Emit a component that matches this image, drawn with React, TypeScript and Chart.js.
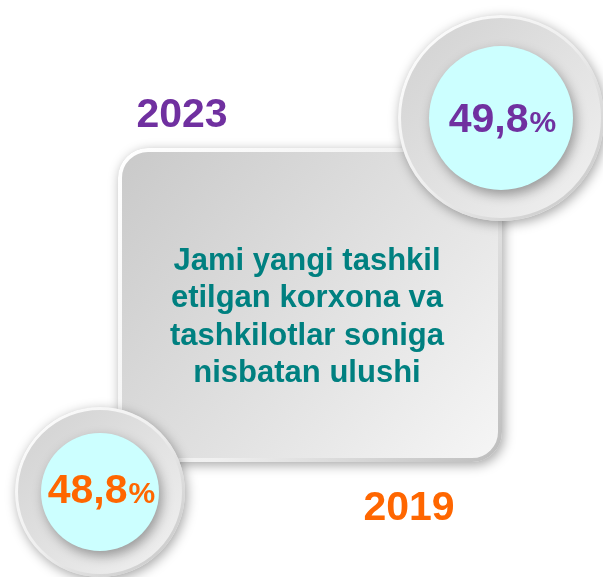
import { useEffect, useRef } from "react";
import { Chart, registerables } from "chart.js";

Chart.register(...registerables);

// ---- data ----
const years = ["2023", "2019"];
const shares = [49.8, 48.8];
const seriesColors = ["#7030a0", "#ff6600"];
const titleLines = [
  "Jami yangi tashkil",
  "etilgan korxona va",
  "tashkilotlar soniga",
  "nisbatan ulushi",
];

const W = 603;
const H = 577;
const FONT = '"Liberation Sans", Arial, Helvetica, sans-serif';

function roundRectPath(ctx: CanvasRenderingContext2D, x: number, y: number, w: number, h: number, r: number) {
  ctx.beginPath();
  ctx.moveTo(x + r, y);
  ctx.lineTo(x + w - r, y);
  ctx.arcTo(x + w, y, x + w, y + r, r);
  ctx.lineTo(x + w, y + h - r);
  ctx.arcTo(x + w, y + h, x + w - r, y + h, r);
  ctx.lineTo(x + r, y + h);
  ctx.arcTo(x, y + h, x, y + h - r, r);
  ctx.lineTo(x, y + r);
  ctx.arcTo(x, y, x + r, y, r);
  ctx.closePath();
}

function drawBadge(ctx: CanvasRenderingContext2D, cx: number, cy: number, R: number, r: number) {
  // outer ring with shadow
  ctx.save();
  ctx.shadowColor = "rgba(0,0,0,0.35)";
  ctx.shadowBlur = 12;
  ctx.shadowOffsetX = 2;
  ctx.shadowOffsetY = 3;
  ctx.beginPath();
  ctx.arc(cx, cy, R, 0, Math.PI * 2);
  const g = ctx.createLinearGradient(cx - R, cy - R, cx + R, cy + R);
  g.addColorStop(0, "#d0d0d0");
  g.addColorStop(1, "#f2f2f2");
  ctx.fillStyle = g;
  ctx.fill();
  ctx.restore();
  // bevel rim
  ctx.save();
  ctx.beginPath();
  ctx.arc(cx, cy, R - 1.5, 0, Math.PI * 2);
  const rg = ctx.createLinearGradient(cx - R, cy - R, cx + R, cy + R);
  rg.addColorStop(0, "#ffffff");
  rg.addColorStop(0.5, "#eeeeee");
  rg.addColorStop(1, "#c2c2c2");
  ctx.strokeStyle = rg;
  ctx.lineWidth = 3;
  ctx.stroke();
  ctx.restore();
  // inner cyan disc with shadow
  ctx.save();
  ctx.shadowColor = "rgba(0,0,0,0.35)";
  ctx.shadowBlur = 12;
  ctx.shadowOffsetX = 3;
  ctx.shadowOffsetY = 5;
  ctx.beginPath();
  ctx.arc(cx, cy, r, 0, Math.PI * 2);
  ctx.fillStyle = "#ccffff";
  ctx.fill();
  ctx.restore();
}

function drawValue(ctx: CanvasRenderingContext2D, value: number, cx: number, baseline: number, color: string) {
  const num = value.toFixed(1).replace(".", ",");
  ctx.save();
  ctx.fillStyle = color;
  ctx.textBaseline = "alphabetic";
  ctx.textAlign = "left";
  ctx.font = `bold 41px ${FONT}`;
  const w1 = ctx.measureText(num).width;
  ctx.font = `bold 30px ${FONT}`;
  const w2 = ctx.measureText("%").width;
  const x0 = cx - (w1 + w2) / 2;
  ctx.font = `bold 41px ${FONT}`;
  ctx.fillText(num, x0, baseline);
  ctx.font = `bold 30px ${FONT}`;
  ctx.fillText("%", x0 + w1 + 1, baseline);
  ctx.restore();
}

const infographicPlugin = {
  id: "infographic",
  afterDraw(chart: any) {
    const ctx: CanvasRenderingContext2D = chart.ctx;
    const labels: string[] = chart.data.labels;
    const vals: number[] = chart.data.datasets[0].data;
    ctx.save();
    ctx.fillStyle = "#ffffff";
    ctx.fillRect(0, 0, W, H);

    // central rounded box
    const bx = 118, by = 148, bw = 384, bh = 314, br = 30;
    ctx.save();
    ctx.shadowColor = "rgba(0,0,0,0.35)";
    ctx.shadowBlur = 12;
    ctx.shadowOffsetX = 2;
    ctx.shadowOffsetY = 3;
    roundRectPath(ctx, bx, by, bw, bh, br);
    const bg = ctx.createLinearGradient(bx, by, bx + bw, by + bh);
    bg.addColorStop(0, "#c9c9c9");
    bg.addColorStop(1, "#f6f6f6");
    ctx.fillStyle = bg;
    ctx.fill();
    ctx.restore();
    ctx.save();
    roundRectPath(ctx, bx + 2, by + 2, bw - 4, bh - 4, br - 2);
    const sg = ctx.createLinearGradient(bx, by, bx + bw, by + bh);
    sg.addColorStop(0, "#ffffff");
    sg.addColorStop(0.55, "#f0f0f0");
    sg.addColorStop(1, "#bdbdbd");
    ctx.strokeStyle = sg;
    ctx.lineWidth = 4;
    ctx.stroke();
    ctx.restore();

    // title text
    ctx.save();
    ctx.fillStyle = "#008080";
    ctx.font = `bold 31px ${FONT}`;
    ctx.textAlign = "center";
    ctx.textBaseline = "middle";
    const lineYs = [261, 298.5, 336, 373.5];
    titleLines.forEach((t, i) => ctx.fillText(t, 307, lineYs[i]));
    ctx.restore();

    // badges
    drawBadge(ctx, 501, 118, 103, 72);
    drawBadge(ctx, 100, 492, 85, 59);

    drawValue(ctx, vals[0], 502, 132, seriesColors[0]);
    drawValue(ctx, vals[1], 101, 503, seriesColors[1]);

    // year labels
    ctx.save();
    ctx.font = `bold 41px ${FONT}`;
    ctx.textAlign = "center";
    ctx.textBaseline = "alphabetic";
    ctx.fillStyle = seriesColors[0];
    ctx.fillText(labels[0], 182, 127);
    ctx.fillStyle = seriesColors[1];
    ctx.fillText(labels[1], 409, 520);
    ctx.restore();
    ctx.restore();
  },
};

export default function App() {
  const ref = useRef<HTMLCanvasElement | null>(null);
  useEffect(() => {
    if (!ref.current) return;
    const chart = new Chart(ref.current, {
      type: "bar",
      data: {
        labels: years,
        datasets: [
          {
            data: shares,
            backgroundColor: "rgba(0,0,0,0)",
            borderWidth: 0,
          },
        ],
      },
      options: {
        responsive: false,
        animation: false,
        events: [],
        layout: { padding: 0 },
        plugins: { legend: { display: false }, tooltip: { enabled: false } },
        scales: { x: { display: false }, y: { display: false } },
      },
      plugins: [infographicPlugin],
    });
    return () => chart.destroy();
  }, []);
  return (
    <div style={{ position: "absolute", left: 0, top: 0, width: W, height: H, background: "#ffffff" }}>
      <canvas ref={ref} width={W} height={H} style={{ width: W, height: H, display: "block" }} />
    </div>
  );
}
